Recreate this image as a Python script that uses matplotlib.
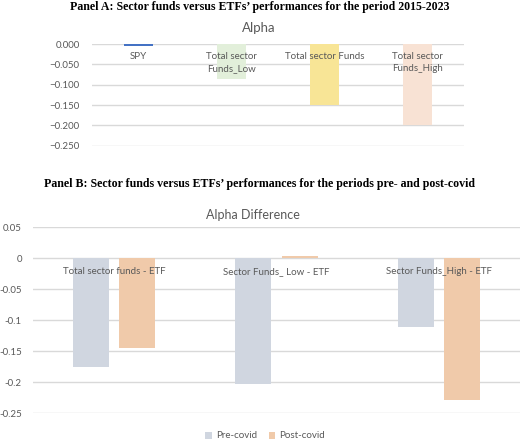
import matplotlib
matplotlib.use('Agg')
import matplotlib.pyplot as plt
import numpy as np

# Panel A data
a_labels = ["SPY", "Total sector\nFunds_Low", "Total sector Funds", "Total sector\nFunds_High"]
a_values = [-0.005, -0.087, -0.151, -0.198]
a_colors = ["#4472C4", "#E2EFDA", "#F8E596", "#F8E2D4"]
a_ticks = [0.0, -0.05, -0.10, -0.15, -0.20, -0.25]

# Panel B data
b_labels = ["Total sector funds - ETF", "Sector Funds_ Low - ETF", "Sector Funds_High - ETF"]
b_pre = [-0.176, -0.202, -0.110]
b_post = [-0.144, 0.004, -0.228]
b_ticks = [0.05, 0, -0.05, -0.1, -0.15, -0.2, -0.25]
b_series = ["Pre-covid", "Post-covid"]

W, H = 520, 443
fig = plt.figure(figsize=(W / 100, H / 100), dpi=100)
fig.patch.set_facecolor('white')

text_col = '#595959'
grid_col = '#D9D9D9'
sans = ['Lato', 'DejaVu Sans']


def px_axes(left, top, right, bottom):
    return fig.add_axes([left / W, 1 - bottom / H, (right - left) / W, (bottom - top) / H])


def style(ax, pad):
    for s in ax.spines.values():
        s.set_visible(False)
    ax.tick_params(length=0, labelsize=7, labelcolor=text_col, pad=pad)
    for lab in ax.get_yticklabels():
        lab.set_family(sans)
    ax.set_xticks([])
    ax.grid(True, axis='y', color=grid_col, linewidth=1)
    ax.set_axisbelow(True)


# --- Panel A ---
fig.text(0.5, 1 - 7 / H, "Panel A: Sector funds versus ETFs\u2019 performances for the period 2015-2023",
         ha='center', va='center', family='Liberation Serif', weight='bold', fontsize=8.6)
fig.text(259 / W, 1 - 28 / H, "Alpha", ha='center', va='center', family=sans,
         fontsize=9.5, color=text_col)

axA = px_axes(92, 44, 464, 145.7)
xa = np.arange(len(a_labels))
axA.bar(xa, a_values, width=0.31, color=a_colors)
axA.set_xlim(-0.5, len(a_labels) - 0.5)
axA.set_ylim(-0.25, 0)
axA.set_yticks(a_ticks)
axA.set_yticklabels([f"{t:.3f}".replace('-', '\u2212') if t != 0 else "0.000" for t in a_ticks])
style(axA, 9)
for x, lab in zip(xa, a_labels):
    axA.text(x, -0.019, lab, ha='center', va='top', family=sans, fontsize=7,
             color=text_col, linespacing=1.45)

# --- Panel B ---
fig.text(0.5, 1 - 184 / H, "Panel B: Sector funds versus ETFs\u2019 performances for the periods pre- and post-covid",
         ha='center', va='center', family='Liberation Serif', weight='bold', fontsize=8.6)
fig.text(253 / W, 1 - 215 / H, "Alpha Difference", ha='center', va='center', family=sans,
         fontsize=9, color=text_col)

axB = px_axes(33, 227.3, 520, 413.3)
xb = np.arange(len(b_labels))
bw = 0.222
h1 = axB.bar(xb - 0.142, b_pre, width=bw, color='#D0D6E0', label=b_series[0])
h2 = axB.bar(xb + 0.142, b_post, width=bw, color='#F0CAAA', label=b_series[1])
axB.set_xlim(-0.5, len(b_labels) - 0.5)
axB.set_ylim(-0.25, 0.05)
axB.set_yticks(b_ticks)
axB.set_yticklabels([("%g" % t) for t in b_ticks])
style(axB, 8)
for x, lab in zip(xb, b_labels):
    axB.text(x, -0.022, lab, ha='center', va='center', family=sans, fontsize=7,
             color=text_col)

fig.legend(handles=[h1, h2], loc='center', bbox_to_anchor=(265 / W, 1 - 436 / H),
           ncol=2, frameon=False, handlelength=0.7, handleheight=0.7,
           handletextpad=0.4, columnspacing=1.2, prop={'family': sans, 'size': 7},
           labelcolor=text_col)

fig.savefig('out.png', dpi=100, facecolor='white')
